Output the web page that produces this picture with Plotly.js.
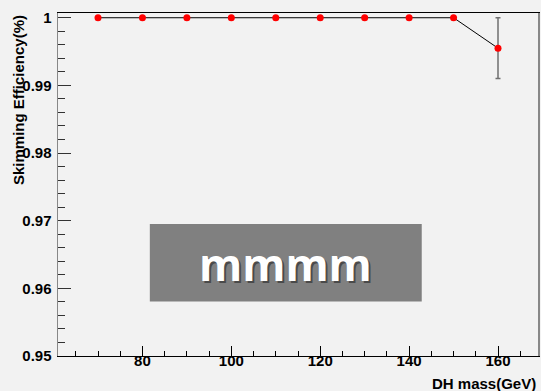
<!DOCTYPE html>
<html>
<head>
<meta charset="utf-8">
<script src="https://cdn.plot.ly/plotly-3.0.1.min.js"></script>
<style>html,body{margin:0;padding:0;background:#f2f2f2;}#chart{width:541px;height:391px;}</style>
</head>
<body>
<div id="chart"></div>
<script>
const massGeV = [70, 80, 90, 100, 110, 120, 130, 140, 150, 160];
const efficiency = [1, 1, 1, 1, 1, 1, 1, 1, 1, 0.9955];
const efficiencyErr = [0, 0, 0, 0, 0, 0, 0, 0, 0, 0.0045];
const xTitle = 'DH mass(GeV)';
const yTitle = 'Skimming Efficiency(%)';
const boxText = 'mmmm';
const xRange = [61, 169];
const yRange = [0.95, 1.0007];

const tickFont = {family: 'Liberation Sans, Arial, sans-serif', size: 15, color: '#000', weight: 'bold'};

const data = [{
  x: massGeV,
  y: efficiency,
  type: 'scatter',
  mode: 'lines+markers',
  line: {color: '#000', width: 1},
  marker: {color: '#ff0000', size: 7, symbol: 'circle'},
  error_y: {type: 'data', array: efficiencyErr, visible: true, color: '#707070', thickness: 1.5, width: 2.5},
  showlegend: false,
  hoverinfo: 'x+y'
}, {
  // invisible companion trace so the tick-label axis is rendered
  x: massGeV,
  y: efficiency,
  xaxis: 'x2', yaxis: 'y',
  type: 'scatter',
  mode: 'markers',
  marker: {opacity: 0, size: 1},
  showlegend: false,
  hoverinfo: 'skip'
}];

const layout = {
  width: 541, height: 391,
  margin: {l: 58, r: 3, t: 13, b: 35, pad: 0},
  paper_bgcolor: '#f2f2f2',
  plot_bgcolor: '#f2f2f2',
  font: tickFont,
  xaxis: {
    range: xRange,
    tick0: 0, dtick: 20,
    ticks: 'inside', ticklen: 10, tickwidth: 1, tickcolor: '#000',
    minor: {dtick: 5, ticks: 'inside', ticklen: 5, tickwidth: 1, tickcolor: '#000'},
    showline: true, linecolor: '#000', linewidth: 1, mirror: true,
    showgrid: false, zeroline: false,
    showticklabels: false
  },
  xaxis2: {
    range: xRange,
    overlaying: 'x', anchor: 'free', position: 0.018, side: 'bottom',
    tick0: 0, dtick: 20, ticks: '',
    showline: false, showgrid: false, zeroline: false,
    tickfont: tickFont, ticklabelstandoff: 0
  },
  yaxis: {
    range: yRange,
    tick0: 0.95, dtick: 0.01,
    ticks: 'inside', ticklen: 13, tickwidth: 1, tickcolor: '#333',
    minor: {dtick: 0.002, ticks: 'inside', ticklen: 7, tickwidth: 1, tickcolor: '#333'},
    showline: true, linecolor: '#888', linewidth: 1.5, mirror: true,
    showgrid: false, zeroline: false,
    tickfont: tickFont, tickformat: '.2~f', ticklabelstandoff: 2
  },
  shapes: [{
    type: 'rect', xref: 'paper', yref: 'paper',
    x0: 0.1913, x1: 0.7578, y0: 0.1588, y1: 0.3845,
    fillcolor: '#808080', line: {width: 0}, layer: 'above'
  }],
  annotations: [
    {text: xTitle, xref: 'paper', yref: 'paper', x: 1, y: 0, yshift: -27, xanchor: 'right', yanchor: 'middle',
     showarrow: false, font: tickFont},
    {text: yTitle, xref: 'paper', yref: 'paper', x: 0, xshift: -40, y: 1, yanchor: 'top', xanchor: 'center',
     textangle: -90, showarrow: false, font: tickFont},
    {text: boxText, xref: 'paper', yref: 'paper', x: 0.474, y: 0.268, xshift: 2, yshift: -2, xanchor: 'center', yanchor: 'middle',
     showarrow: false, font: {family: 'Open Sans, sans-serif', size: 44, color: '#4a4a4a', weight: 'bold'}},
    {text: boxText, xref: 'paper', yref: 'paper', x: 0.474, y: 0.268, xanchor: 'center', yanchor: 'middle',
     showarrow: false, font: {family: 'Open Sans, sans-serif', size: 44, color: '#ffffff', weight: 'bold'}}
  ]
};

Plotly.newPlot('chart', data, layout, {displayModeBar: false, staticPlot: true});
</script>
</body>
</html>
